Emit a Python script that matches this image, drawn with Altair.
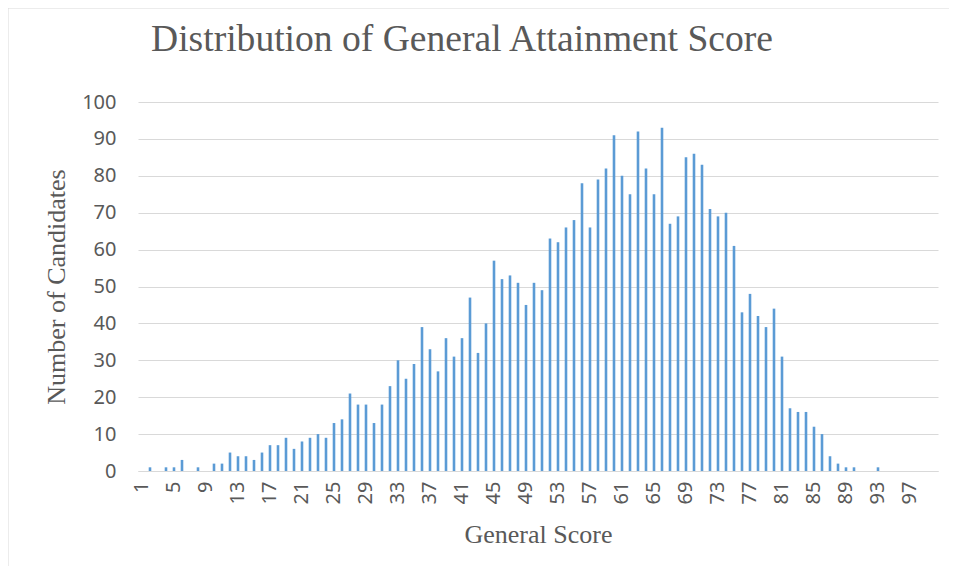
import altair as alt
import pandas as pd

scores = list(range(1, 101))
counts = [0, 1, 0, 1, 1, 3, 0, 1, 0, 2,
          2, 5, 4, 4, 3, 5, 7, 7, 9, 6,
          8, 9, 10, 9, 13, 14, 21, 18, 18, 13,
          18, 23, 30, 25, 29, 39, 33, 27, 36, 31,
          36, 47, 32, 40, 57, 52, 53, 51, 45, 51,
          49, 63, 62, 66, 68, 78, 66, 79, 82, 91,
          80, 75, 92, 82, 75, 93, 67, 69, 85, 86,
          83, 71, 69, 70, 61, 43, 48, 42, 39, 44,
          31, 17, 16, 16, 12, 10, 4, 2, 1, 1,
          0, 0, 1, 0, 0, 0, 0, 0, 0, 0]
x_label_values = list(range(1, 101, 4))
y_tick_values = list(range(0, 101, 10))

df = pd.DataFrame({"score": scores, "count": counts})

GREY = "#595959"
SERIF = "Liberation Serif"
SANS = "Noto Sans"

frame = alt.Chart(pd.DataFrame({"a": [0]})).mark_rect(
    fillOpacity=0, stroke="#d9d9d9", strokeWidth=1
).encode(
    x=alt.value(-130), x2=alt.value(1000),
    y=alt.value(-94), y2=alt.value(800)
)

bars = alt.Chart(df).mark_bar(size=2.6, color="#5b9bd5").encode(
    x=alt.X(
        "score:O",
        scale=alt.Scale(paddingInner=0, paddingOuter=0),
        axis=alt.Axis(
            values=x_label_values, labelAngle=270, title="General Score",
            labelPadding=10, titlePadding=18, grid=False,
            domainColor="#d9d9d9", domainWidth=1, ticks=False, tickSize=0,
        ),
    ),
    y=alt.Y(
        "count:Q",
        scale=alt.Scale(domain=[0, 100]),
        axis=alt.Axis(
            values=y_tick_values, title="Number of Candidates",
            labelPadding=22, titlePadding=12, grid=True,
            gridColor="#d9d9d9", gridWidth=1, domain=False,
            ticks=False, tickSize=0,
        ),
    ),
)

chart = alt.layer(frame, bars).properties(
    width=800,
    height=369,
    padding={"left": 130, "top": 94, "right": 11, "bottom": 95},
    autosize=alt.AutoSizeParams(type="none"),
    title=alt.Title(
        "Distribution of General Attainment Score",
        font=SERIF, fontSize=37.6, fontWeight="normal", color=GREY,
        anchor="start", frame="group", dx=13, baseline="alphabetic", offset=-81,
    ),
).configure_view(stroke=None).configure_axis(
    labelFont=SANS, labelFontSize=20, labelColor=GREY,
    titleFont=SERIF, titleFontSize=26, titleFontWeight="normal", titleColor=GREY,
)

chart.save("out.html", embed_options={"renderer": "svg", "actions": False})
